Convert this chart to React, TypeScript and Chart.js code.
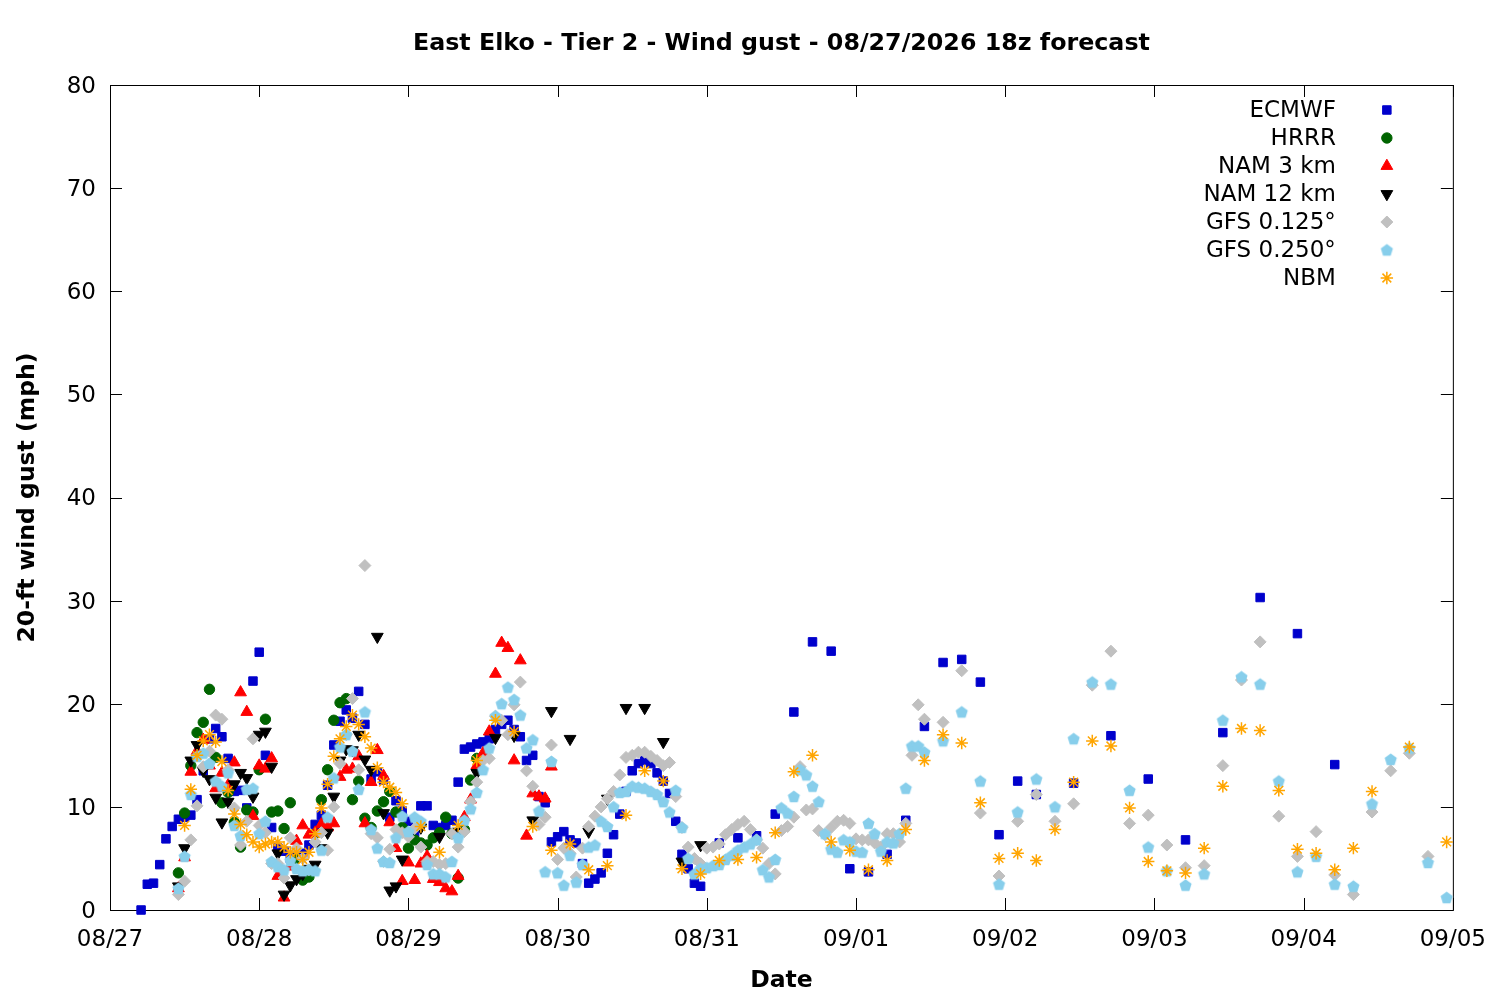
import React, { useEffect, useRef } from 'react';
import { Chart, registerables } from 'chart.js';
import { drawPoint } from 'chart.js/helpers';

Chart.register(...registerables);

// hours are counted from 08/27 00:00 local time
const TITLE = 'East Elko - Tier 2 - Wind gust - 08/27/2026 18z forecast';
const Y_TITLE = '20-ft wind gust (mph)';
const X_TITLE = 'Date';
const DATE_LABELS = ['08/27', '08/28', '08/29', '08/30', '08/31', '09/01', '09/02', '09/03', '09/04', '09/05'];
const Y_TICKS = [0, 10, 20, 30, 40, 50, 60, 70, 80];

// ECMWF: hourly from h5, 3-hourly from h98, 6-hourly from h155
const ECMWF_1H = [
  0, 2.5, 2.6, 4.4, 6.9, 8.1, 8.8, 9.0, 9.2, 10.7,
  13.5, 16.6, 17.6, 16.8, 14.7, 11.5, 11.6, 9.9, 22.2, 25.0,
  15.0, 8.0, 6.0, 5.7, 5.0, 5.2, 5.5, 6.3, 8.3, 9.2,
  12.1, 16.0, 18.3, 19.4, 18.6, 21.2, 18.0, 12.7, 13.4, 12.6,
  9.0, 10.6, 9.6, 8.6, 7.5, 10.1, 10.1, 8.2, 8.0, 8.2,
  8.7, 12.4, 15.6, 15.8, 16.1, 16.3, 16.6, 17.5, 18.0, 18.4,
  17.5, 16.8, 14.5, 15.0, 11.0, 10.4, 6.6, 7.1, 7.6, 6.8,
  6.5, 4.5, 2.6, 3.0, 3.6, 5.5, 7.3, 9.3, 11.5, 13.5,
  14.2, 14.5, 14.2, 13.3, 12.5, 11.3, 8.6, 5.4, 4.0, 2.6,
  2.3,
];
const ECMWF_3H = [6.5, 7.0, 7.2, 9.3, 19.2, 26.0, 25.1, 4.0, 3.7, 5.4, 8.7, 17.8, 24.0, 24.3, 22.1, 7.3, 12.5, 11.2];
const ECMWF_6H = [12.3, 16.9, 12.7, 6.8, 17.2, 30.3, 26.8, 14.1];

// HRRR: hourly from h11
const HRRR_1H = [
  3.6, 9.4, 14.0, 17.2, 18.2, 21.4, 14.8, 10.4, 11.4, 8.5,
  6.1, 9.7, 9.5, 13.6, 18.5, 9.5, 9.6, 7.9, 10.4, 5.0,
  2.9, 3.2, 7.4, 10.7, 13.6, 18.4, 20.1, 20.5, 10.7, 12.5,
  8.9, 8.0, 9.6, 10.5, 11.5, 9.5, 8.0, 6.0, 6.8, 6.5,
  6.3, 7.0, 7.5, 9.0, 7.4, 3.1, 7.8, 12.6, 14.7,
];

// NAM 3 km: hourly from h11
const NAM3_1H = [
  2.1, 5.1, 13.4, 15.4, 16.5, 14.0, 11.8, 13.3, 12.1, 14.3,
  21.1, 19.2, 9.1, 14.0, 13.7, 14.7, 3.3, 1.2, 4.2, 6.7,
  8.2, 7.3, 7.5, 8.3, 8.0, 8.4, 12.9, 13.6, 13.7, 14.9,
  8.4, 12.4, 15.5, 13.0, 8.5, 6.0, 2.8, 4.6, 2.9, 4.5,
  5.2, 3.0, 2.7, 2.1, 1.8, 3.3, 9.0, 10.7, 14.0, 15.2,
  17.3, 22.9, 25.9, 25.4, 14.5, 24.2, 7.2, 11.3, 11.0, 10.8,
  13.9,
];

// NAM 12 km: hourly from h11, 3-hourly from h50
const NAM12_1H = [
  2.3, 6.0, 14.5, 16.0, 13.5, 12.7, 10.9, 8.5, 10.5, 12.2,
  13.3, 12.8, 11.0, 17.0, 17.3, 13.9, 5.5, 1.5, 2.4, 3.0,
  3.5, 4.0, 4.4, 6.0, 7.5, 11.0, 14.5, 15.6, 15.5, 17.0,
  14.6, 13.6, 26.5, 9.4, 1.9, 2.3, 4.9,
];
const NAM12_3H = [8.0, 7.1, 7.6, 13.3, 16.7, 16.9, 8.7, 19.3, 16.6, 7.6, 10.8, 19.6, 19.6, 16.3, 4.7, 6.3];

// GFS 0.125: hourly from h11, 3-hourly from h134
const GFS125_1H = [
  1.5, 2.8, 6.8, 10.1, 13.9, 15.4, 18.9, 18.5, 13.6, 9.9,
  6.3, 8.6, 16.6, 8.2, 7.5, 4.5, 4.5, 3.1, 7.0, 6.0,
  5.0, 3.9, 6.6, 7.5, 5.8, 10.0, 14.2, 17.0, 20.5, 13.6,
  33.4, 7.4, 7.0, 4.7, 5.9, 7.8, 7.5, 7.1, 7.9, 6.1,
  4.7, 4.7, 4.4, 4.5, 7.4, 6.1, 7.6, 10.5, 12.4, 14.5,
  14.7, 18.8, 18.4, 17.0, 19.9, 22.1, 13.5, 12.0, 8.3, 9.0,
  16.0, 4.9, 6.0, 5.5, 3.2, 6.0, 8.1, 9.1, 10.0, 10.8,
  11.5, 13.1, 14.8, 15.0, 15.3, 15.3, 14.9, 14.5, 14.0, 14.3,
  11.0, 8.0, 6.1, 5.0, 4.5, 6.0, 6.1, 6.4, 7.3, 7.8,
  8.3, 8.6, 7.8, 6.8, 6.0, 4.5, 3.5, 7.7, 8.1, 9.0,
  13.9, 9.7, 9.8, 7.7, 7.3, 8.0, 8.6, 8.7, 8.4, 6.9,
  6.8, 6.8, 6.5, 6.1, 7.4, 7.4, 6.6, 8.4, 15.0, 19.9,
  18.5,
];
const GFS125_3H = [
  18.2, 23.2, 9.4, 3.3, 8.6, 11.2, 8.6, 10.3, 21.8, 25.1,
  8.4, 9.2, 6.3, 4.1, 4.3, 14.0, 22.3, 26.0, 9.1, 5.2,
  7.6, 3.4, 1.5, 9.5, 13.5, 15.2, 5.2,
];

// GFS 0.250: hourly from h11, 3-hourly from h134
const GFS250_1H = [
  2.1, 5.2, 11.2, 14.9, 15.2, 14.2, 12.5, 12.0, 13.3, 8.2,
  7.2, 11.7, 11.8, 7.4, 8.6, 4.7, 4.2, 3.9, 4.8, 4.0,
  3.8, 3.9, 3.8, 5.8, 9.0, 12.8, 15.8, 17.0, 15.4, 11.7,
  19.2, 7.8, 6.0, 4.7, 4.6, 7.0, 9.1, 7.6, 9.0, 8.6,
  4.4, 3.5, 3.5, 3.2, 4.7, 7.0, 8.7, 9.8, 11.4, 13.6,
  15.7, 18.8, 20.0, 21.6, 20.4, 18.9, 15.7, 16.5, 9.6, 3.7,
  14.4, 3.6, 2.4, 5.3, 2.7, 4.4, 6.1, 6.3, 8.6, 8.1,
  10.0, 11.4, 11.5, 12.0, 11.9, 11.8, 11.5, 11.2, 10.5, 9.5,
  11.6, 8.0, 5.0, 3.5, 4.0, 4.1, 4.3, 4.4, 4.9, 5.3,
  5.8, 6.1, 6.4, 6.8, 3.9, 3.2, 4.9, 9.9, 9.4, 11.0,
  13.6, 13.1, 12.0, 10.5, 7.4, 5.9, 5.6, 6.8, 6.6, 5.7,
  5.6, 8.4, 7.4, 5.7, 6.6, 6.5, 7.4, 11.8, 15.9, 15.9,
  15.3,
];
const GFS250_3H = [
  16.4, 19.2, 12.5, 2.5, 9.5, 12.7, 10.0, 16.6, 22.1, 21.9,
  11.6, 6.1, 3.8, 2.4, 3.5, 18.4, 22.6, 21.9, 12.5, 3.7,
  5.2, 2.5, 2.3, 10.3, 14.6, 15.7, 4.6, 1.2,
];

// NBM: hourly from h12, 3-hourly from h50, 6-hourly from h209
const NBM_1H = [
  8.2, 11.7, 15.0, 16.4, 17.0, 16.3, 14.4, 11.6, 9.3, 8.3,
  7.3, 6.6, 6.1, 6.4, 6.6, 6.6, 6.1, 5.6, 5.6, 4.9,
  5.6, 7.4, 9.9, 12.2, 14.9, 16.6, 17.8, 18.9, 18.0, 16.8,
  15.7, 13.8, 12.4, 11.9, 11.4, 10.3,
];
const NBM_3H = [
  8.1, 5.6, 8.2, 14.5, 18.4, 17.3, 8.1, 5.8, 6.4, 3.9,
  4.3, 9.2, 13.5, 12.5, 4.0, 3.5, 4.8, 4.9, 5.1, 7.5,
  13.4, 15.0, 6.6, 5.8, 3.9, 4.8, 7.8, 14.5, 17.0, 16.2,
  10.4, 5.0, 5.5, 4.8, 7.8, 12.4, 16.4, 15.9, 9.9, 4.7,
  3.8, 3.6, 6.0, 12.0, 17.6, 17.4, 11.6, 5.9, 5.5, 3.9,
  6.0, 11.5,
];
const NBM_6H = [15.8, 6.6];

type Segment = { start: number; step: number; values: number[] };

const toPoints = (segments: Segment[]) =>
  segments.flatMap((s) => s.values.map((v, i) => ({ x: s.start + i * s.step, y: v })));

const FONT = '"DejaVu Sans", sans-serif';

function makePentagon(color: string, r: number) {
  const size = Math.ceil(r * 2 + 2);
  const c = document.createElement('canvas');
  c.width = size;
  c.height = size;
  const g = c.getContext('2d')!;
  g.fillStyle = color;
  g.beginPath();
  for (let k = 0; k < 5; k++) {
    const a = -Math.PI / 2 + (k * 2 * Math.PI) / 5;
    const px = size / 2 + r * Math.cos(a);
    const py = size / 2 + 0.5 + r * Math.sin(a);
    if (k === 0) g.moveTo(px, py);
    else g.lineTo(px, py);
  }
  g.closePath();
  g.fill();
  return c;
}

const App: React.FC = () => {
  const canvasRef = useRef<HTMLCanvasElement | null>(null);
  const chartRef = useRef<Chart | null>(null);

  useEffect(() => {
    document.body.style.margin = '0';
    if (!canvasRef.current) return;
    const ctx = canvasRef.current.getContext('2d');
    if (!ctx) return;

    if (chartRef.current) chartRef.current.destroy();

    const pentagon = makePentagon('#87ceeb', 6.4);

    const series = [
      { label: 'ECMWF', color: '#0000cc', style: 'rect', radius: 6, rotation: 0, border: 1,
        data: toPoints([{ start: 5, step: 1, values: ECMWF_1H }, { start: 98, step: 3, values: ECMWF_3H }, { start: 155, step: 6, values: ECMWF_6H }]) },
      { label: 'HRRR', color: '#006400', style: 'circle', radius: 5.2, rotation: 0, border: 1,
        data: toPoints([{ start: 11, step: 1, values: HRRR_1H }]) },
      { label: 'NAM 3 km', color: '#ff0000', style: 'triangle', radius: 6.8, rotation: 0, border: 1,
        data: toPoints([{ start: 11, step: 1, values: NAM3_1H }]) },
      { label: 'NAM 12 km', color: '#000000', style: 'triangle', radius: 6.8, rotation: 180, border: 1,
        data: toPoints([{ start: 11, step: 1, values: NAM12_1H }, { start: 50, step: 3, values: NAM12_3H }]) },
      { label: 'GFS 0.125°', color: '#c0c0c0', style: 'rectRot', radius: 6, rotation: 0, border: 1,
        data: toPoints([{ start: 11, step: 1, values: GFS125_1H }, { start: 134, step: 3, values: GFS125_3H }]) },
      { label: 'GFS 0.250°', color: '#87ceeb', style: pentagon as any, radius: 6, rotation: 0, border: 0,
        data: toPoints([{ start: 11, step: 1, values: GFS250_1H }, { start: 134, step: 3, values: GFS250_3H }]) },
      { label: 'NBM', color: '#ffa500', style: 'star', radius: 6.2, rotation: 0, border: 1.5,
        data: toPoints([{ start: 12, step: 1, values: NBM_1H }, { start: 50, step: 3, values: NBM_3H }, { start: 209, step: 6, values: NBM_6H }]) },
    ];

    const framePlugin = {
      id: 'gnuFrame',
      beforeDatasetsDraw(chart: any) {
        const { ctx: c, chartArea: a, scales } = chart;
        c.save();
        c.strokeStyle = '#000';
        c.lineWidth = 1;
        c.strokeRect(a.left + 0.5, a.top + 0.5, a.right - a.left, a.bottom - a.top);
        c.beginPath();
        Y_TICKS.forEach((v) => {
          const py = Math.round(scales.y.getPixelForValue(v)) + 0.5;
          c.moveTo(a.left, py);
          c.lineTo(a.left + 12, py);
          c.moveTo(a.right, py);
          c.lineTo(a.right - 12, py);
        });
        DATE_LABELS.forEach((_, i) => {
          const px = Math.round(scales.x.getPixelForValue(i * 24)) + 0.5;
          c.moveTo(px, a.bottom);
          c.lineTo(px, a.bottom - 12);
          c.moveTo(px, a.top);
          c.lineTo(px, a.top + 12);
        });
        c.stroke();
        c.restore();
      },
      afterDraw(chart: any) {
        const { ctx: c, chartArea: a } = chart;
        const cx = (a.left + a.right) / 2;
        c.save();
        c.fillStyle = '#000';
        c.textAlign = 'center';
        c.textBaseline = 'middle';
        c.font = `bold 23.75px ${FONT}`;
        c.fillText(TITLE, cx, 44);
        c.font = `bold 23.5px ${FONT}`;
        c.fillText(X_TITLE, cx, 981);
        c.save();
        c.translate(28, (a.top + a.bottom) / 2);
        c.rotate(-Math.PI / 2);
        c.fillText(Y_TITLE, 0, 0);
        c.restore();

        // legend, gnuplot style: text right-aligned, marker to the right
        c.font = `23px ${FONT}`;
        c.textAlign = 'right';
        series.forEach((s, i) => {
          const ly = 110 + i * 28;
          c.fillStyle = '#000';
          c.fillText(s.label, a.right - 117, ly + 1);
          c.fillStyle = s.color;
          c.strokeStyle = s.color;
          c.lineWidth = s.border;
          drawPoint(c, { pointStyle: s.style, rotation: s.rotation, radius: s.radius, borderWidth: s.border } as any, a.right - 66, ly);
        });
        c.restore();
      },
    };

    chartRef.current = new Chart(ctx, {
      type: 'scatter',
      data: {
        datasets: series.map((s, i) => ({
          label: s.label,
          data: s.data,
          backgroundColor: s.color,
          borderColor: s.color,
          borderWidth: s.border,
          pointStyle: s.style,
          pointRadius: s.radius,
          pointRotation: s.rotation,
          order: series.length - i,
          clip: false as any,
        })),
      },
      options: {
        responsive: false,
        devicePixelRatio: 1,
        animation: false,
        events: [],
        layout: { padding: { top: 85, right: 46, left: 0, bottom: 0 } },
        plugins: {
          legend: { display: false },
          title: { display: false },
          tooltip: { enabled: false },
        },
        scales: {
          x: {
            type: 'linear',
            min: 0,
            max: 216,
            afterFit: (scale: any) => { scale.height = 90; },
            afterBuildTicks: (scale: any) => { scale.ticks = DATE_LABELS.map((_, i) => ({ value: i * 24 })); },
            ticks: {
              autoSkip: false,
              maxRotation: 0,
              padding: 14,
              color: '#000',
              font: { family: FONT, size: 23, lineHeight: 1.4 },
              callback: (value: any) => DATE_LABELS[Math.round(Number(value) / 24)] ?? '',
            },
            grid: { display: false, drawTicks: false },
            border: { display: false },
          },
          y: {
            min: 0,
            max: 80,
            afterFit: (scale: any) => { scale.width = 110; },
            afterBuildTicks: (scale: any) => { scale.ticks = Y_TICKS.map((v) => ({ value: v })); },
            ticks: {
              padding: 14,
              labelOffset: 2,
              color: '#000',
              font: { family: FONT, size: 23 },
            },
            grid: { display: false, drawTicks: false },
            border: { display: false },
          },
        },
      },
      plugins: [framePlugin],
    });

    return () => {
      if (chartRef.current) {
        chartRef.current.destroy();
        chartRef.current = null;
      }
    };
  }, []);

  return (
    <div style={{ width: 1500, height: 1000, background: '#fff' }}>
      <canvas ref={canvasRef} width={1500} height={1000}></canvas>
    </div>
  );
};

export default App;
